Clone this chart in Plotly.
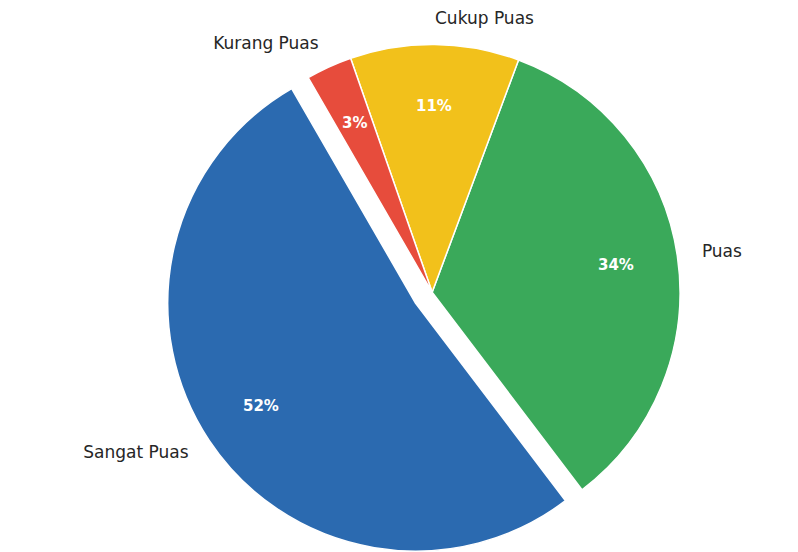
import math
import plotly.graph_objects as go

labels = ["Sangat Puas", "Puas", "Cukup Puas", "Kurang Puas"]
values = [52, 34, 11, 3]
colors = ["#2b6ab0", "#3aa95a", "#f2c11b", "#e74c3c"]
pulls = [0.08, 0, 0, 0]
start_angle = 120  # degrees, counterclockwise from 3 o'clock (first slice start)
label_distance = 1.1
pct_distance = 0.75

W, H = 798, 552
pie_domain = dict(x=[0.19, 0.873], y=[0.0, 0.97])

total = sum(values)
# Plotly rotation: end edge of the first slice, measured clockwise from 12 o'clock
first_end = start_angle + 360 * values[0] / total
rotation = (90 - first_end) % 360

# pie geometry in pixels (plotly: r = min(w, h) / (2 * (1 + maxPull)))
dw = (pie_domain["x"][1] - pie_domain["x"][0]) * W
dh = (pie_domain["y"][1] - pie_domain["y"][0]) * H
r_px = min(dw, dh) / (2 * (1 + max(pulls)))
cx_px = (pie_domain["x"][0] + pie_domain["x"][1]) / 2 * W
cy_px = (pie_domain["y"][0] + pie_domain["y"][1]) / 2 * H  # from bottom

# label positions in units of radius, along each slice's bisector
lab_x, lab_y, lab_pos, pct_x, pct_y, pct_txt = [], [], [], [], [], []
cum = 0
for v, p in zip(values, pulls):
    t1 = start_angle + 360 * cum / total
    t2 = start_angle + 360 * (cum + v) / total
    cum += v
    tm = math.radians((t1 + t2) / 2)
    c, s = math.cos(tm), math.sin(tm)
    lab_x.append((label_distance + p) * c)
    lab_y.append((label_distance + p) * s)
    lab_pos.append("middle right" if c > 0 else "middle left")
    pct_x.append((pct_distance + p) * c)
    pct_y.append((pct_distance + p) * s)
    pct_txt.append(f"{v / total * 100:.0f}%")

fig = go.Figure()
fig.add_trace(go.Pie(
    labels=labels, values=values, sort=False, direction="counterclockwise",
    rotation=rotation, pull=pulls, domain=pie_domain, showlegend=False,
    marker=dict(colors=colors, line=dict(color="white", width=1.5)),
    textinfo="none",
    hoverinfo="label+percent",
))
fig.add_trace(go.Scatter(
    x=lab_x, y=lab_y, mode="text", text=labels, textposition=lab_pos,
    textfont=dict(family="DejaVu Sans", size=17, color="#262626"),
    hoverinfo="skip", showlegend=False, cliponaxis=False,
))

for x, y, t in zip(pct_x, pct_y, pct_txt):
    fig.add_annotation(
        x=x, y=y, xref="x", yref="y", text=t, showarrow=False,
        xanchor="center", yanchor="middle",
        font=dict(family="DejaVu Sans", size=15, color="white", weight="bold"),
    )

fig.update_layout(
    width=W, height=H,
    margin=dict(l=0, r=0, t=0, b=0),
    paper_bgcolor="white", plot_bgcolor="rgba(0,0,0,0)",
    xaxis=dict(domain=[0, 1], range=[-cx_px / r_px, (W - cx_px) / r_px],
               visible=False, fixedrange=True),
    yaxis=dict(domain=[0, 1], range=[-cy_px / r_px, (H - cy_px) / r_px],
               visible=False, fixedrange=True),
)
fig.write_html("out.html")
